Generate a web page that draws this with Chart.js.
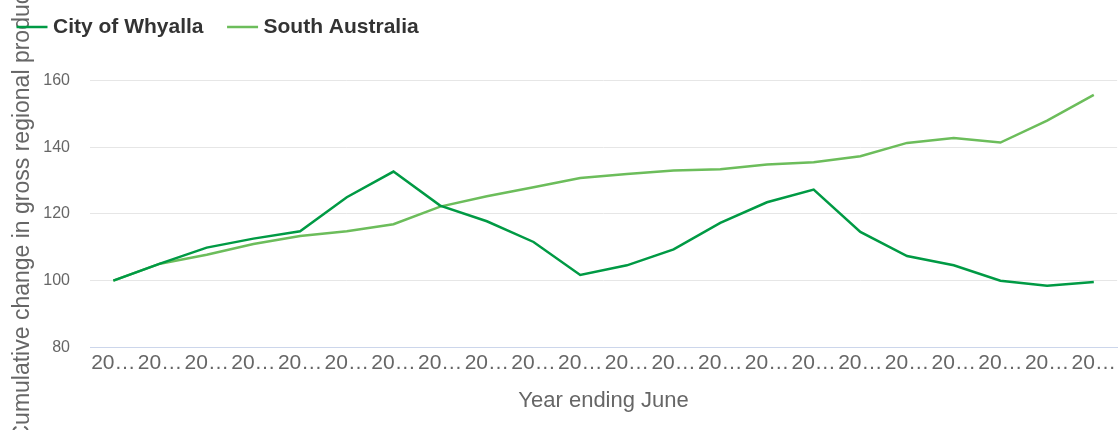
<!DOCTYPE html>
<html>
<head>
<meta charset="utf-8">
<script src="https://cdn.jsdelivr.net/npm/chart.js@4"></script>
<style>
html,body{margin:0;padding:0;background:#fff;overflow:hidden;}
#wrap{position:relative;width:1119px;height:430px;}
</style>
</head>
<body>
<div id="wrap"><canvas id="c"></canvas></div>
<script>
const categories = ["2001–02","2002–03","2003–04","2004–05","2005–06","2006–07","2007–08","2008–09","2009–10","2010–11","2011–12","2012–13","2013–14","2014–15","2015–16","2016–17","2017–18","2018–19","2019–20","2020–21","2021–22","2022–23"];
const whyalla = [100,105.1,109.9,112.6,114.8,125.0,132.7,122.5,117.8,111.6,101.7,104.6,109.4,117.3,123.5,127.3,114.6,107.4,104.6,100.0,98.5,99.6];
const southAustralia = [100,105.1,107.8,111.0,113.4,114.8,116.9,122.2,125.3,128.0,130.8,132.0,133.0,133.4,134.8,135.5,137.3,141.3,142.8,141.4,148.0,155.7];
const yTicks = [80,100,120,140,160];
const seriesColors = ['#009a44', '#6cbd5b'];

const FONT = "'Liberation Sans', Arial, sans-serif";

function legendLine(color) {
  const cv = document.createElement('canvas');
  cv.width = 62; cv.height = 6;
  const g = cv.getContext('2d');
  g.strokeStyle = color; g.lineWidth = 2.5;
  g.beginPath(); g.moveTo(18, 3); g.lineTo(49, 3); g.stroke();
  return cv;
}
const legendIcons = seriesColors.map(legendLine);

const legendMargin = {
  id: 'legendMargin',
  beforeInit(chart) {
    const orig = chart.legend.fit;
    chart.legend.fit = function() {
      orig.bind(chart.legend)();
      this.height += 33;
    };
  }
};

new Chart(document.getElementById('c'), {
  type: 'line',
  data: {
    labels: categories,
    datasets: [
      {label: 'City of Whyalla', data: whyalla, borderColor: seriesColors[0], backgroundColor: seriesColors[0], borderWidth: 2.5, pointRadius: 0, tension: 0},
      {label: 'South Australia', data: southAustralia, borderColor: seriesColors[1], backgroundColor: seriesColors[1], borderWidth: 2.5, pointRadius: 0, tension: 0}
    ]
  },
  options: {
    responsive: true,
    maintainAspectRatio: false,
    animation: false,
    layout: {padding: {left: -7, top: -7, right: 1, bottom: 0}},
    plugins: {
      legend: {
        position: 'top',
        align: 'start',
        labels: {
          usePointStyle: true,
          pointStyleWidth: 26,
          padding: 23.5,
          color: '#333333',
          font: {family: FONT, size: 21, weight: 'bold'},
          generateLabels(chart) {
            const items = Chart.defaults.plugins.legend.labels.generateLabels(chart);
            items.forEach((it, i) => { it.pointStyle = legendIcons[i]; });
            return items;
          }
        }
      },
      tooltip: {enabled: false}
    },
    scales: {
      x: {
        offset: true,
        grid: {display: false, drawTicks: false},
        border: {display: true, color: '#ccd6eb', width: 1},
        ticks: {
          autoSkip: false, maxRotation: 0, minRotation: 0, padding: 3,
          color: '#666666',
          font: {family: FONT, size: 21},
          callback: function(v) { return String(this.getLabelForValue(v)).slice(0, 2) + '…'; }
        },
        title: {display: true, text: 'Year ending June', color: '#666666', font: {family: FONT, size: 22}, padding: {top: 9, bottom: 16}}
      },
      y: {
        min: 80, max: 160,
        afterBuildTicks: (s) => { s.ticks = yTicks.map(v => ({value: v})); },
        afterFit: (s) => { s.width = 97; },
        grid: {color: '#e6e6e6', lineWidth: 1, drawTicks: false},
        border: {display: false},
        ticks: {padding: 20, color: '#666666', font: {family: FONT, size: 16}},
        title: {display: true, text: 'Cumulative change in gross regional product', color: '#666666', font: {family: FONT, size: 23}, padding: {top: 16, bottom: 4}}
      }
    }
  },
  plugins: [legendMargin]
});
</script>
</body>
</html>
